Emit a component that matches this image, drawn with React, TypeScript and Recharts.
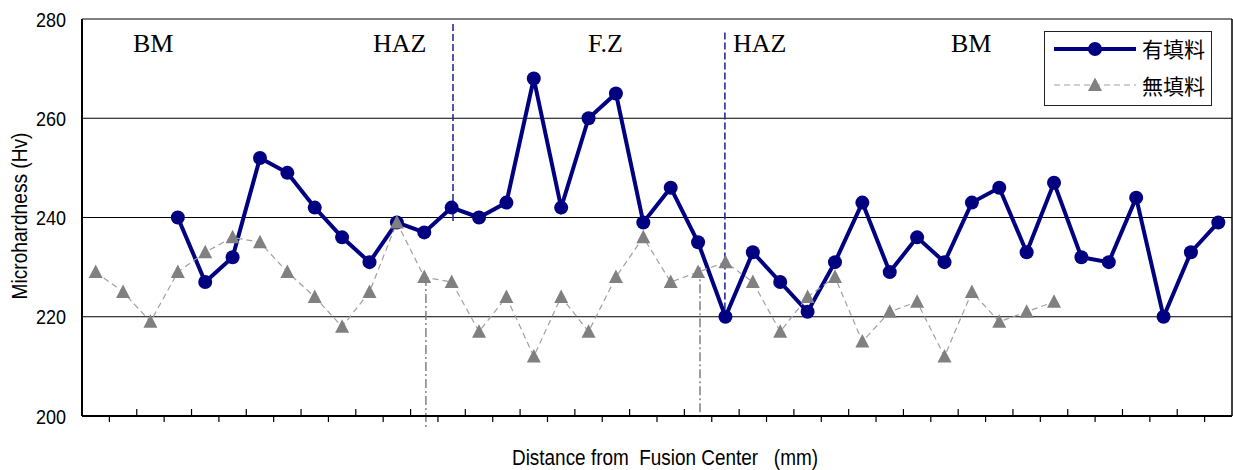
import React from "react";
import { LineChart, Line, XAxis, YAxis, CartesianGrid, ReferenceLine } from "recharts";

// 有填料 / 無填料 microhardness (Hv), one value per measuring position
const filled: (number | null)[] = [
  null, null, null, 240, 227, 232, 252, 249, 242, 236, 231, 239,
  237, 242, 240, 243, 268, 242, 260, 265, 239, 246, 235, 220, 233, 227, 221,
  231, 243, 229, 236, 231, 243, 246, 233, 247, 232, 231, 244, 220, 233, 239,
];
const unfilled: (number | null)[] = [
  229, 225, 219, 229, 233, 236, 235, 229, 224, 218, 225, 239,
  228, 227, 217, 224, 212, 224, 217, 228, 236, 227, 229, 231, 227, 217, 224,
  228, 215, 221, 223, 212, 225, 219, 221, 223, null, null, null, null, null, null,
];
const seriesNames = ["有填料", "無填料"];
const yTicks = [200, 220, 240, 260, 280];
const xBoundaries = Array.from({ length: filled.length + 1 }, (_, i) => i);

// zone dividers (blue dashed) and fusion-line drops (grey dash-dot), in data units
const zoneLines = [
  { x: 13.55, from: 279, to: 239 },
  { x: 23.48, from: 277.3, to: 221 },
];
const dropLines = [
  { x: 12.56, from: 228, to: 197.6 },
  { x: 22.57, from: 230, to: 199.6 },
];
const zoneLabels = [
  { text: "BM", x: 133 },
  { text: "HAZ", x: 373 },
  { text: "F.Z", x: 588 },
  { text: "HAZ", x: 733 },
  { text: "BM", x: 951 },
];

const rows = filled.map((v, i) => ({ pos: i + 0.5, filled: v, unfilled: unfilled[i] }));

const SANS = "'Liberation Sans Narrow', 'Liberation Sans', Arial, sans-serif";
const NAVY = "#000080";
const GREY = "#808080";

function XTick({ x, y, payload }: any) {
  const v = payload.value;
  if (v === 0 || v === xBoundaries.length - 1) return null;
  const inside = v % 2 === 0;
  return (
    <line x1={x} x2={x} y1={inside ? y - 7 : y} y2={inside ? y : y + 6} stroke="#000" strokeWidth={1.2} />
  );
}

function YTick({ x, y, payload }: any) {
  return (
    <text x={x - 16} y={y + 7.5} textAnchor="end" fontSize={21} fontFamily={SANS} fill="#000"
      textLength={30} lengthAdjust="spacingAndGlyphs">
      {payload.value}
    </text>
  );
}

function Triangle({ cx, cy }: any) {
  if (cx == null || cy == null) return null;
  return <polygon points={`${cx},${cy - 7.5} ${cx - 7},${cy + 6} ${cx + 7},${cy + 6}`} fill={GREY} />;
}

function LegendBox() {
  return (
    <div style={{ position: "absolute", left: 1044, top: 31, width: 166, height: 73, border: "1px solid #222", background: "#fff" }}>
      <svg width={166} height={73} style={{ display: "block" }}>
        <line x1={9} x2={91} y1={17} y2={17} stroke={NAVY} strokeWidth={4} />
        <circle cx={50} cy={17} r={7} fill={NAVY} />
        <text x={97} y={25} fontSize={21} fontFamily="'Noto Sans CJK JP', sans-serif" fill="#000">{seriesNames[0]}</text>
        <line x1={9} x2={91} y1={53} y2={53} stroke="#a0a0a0" strokeWidth={1} strokeDasharray="6 4" />
        <polygon points="50,45.5 43,59 57,59" fill={GREY} />
        <text x={97} y={62} fontSize={21} fontFamily="'Noto Sans CJK JP', sans-serif" fill="#000">{seriesNames[1]}</text>
      </svg>
    </div>
  );
}

export default function App() {
  return (
    <div style={{ position: "absolute", left: 0, top: 0, width: 1233, height: 470, background: "#fff" }}>
      <LineChart width={1233} height={470} data={rows} margin={{ top: 19, right: 1, bottom: 0, left: 0 }}>
        <CartesianGrid horizontal vertical={false} stroke="#000" strokeWidth={1} />
        <XAxis
          type="number"
          dataKey="pos"
          domain={[0, xBoundaries.length - 1]}
          ticks={xBoundaries}
          interval={0}
          height={54}
          tickSize={0}
          tickMargin={0}
          tickLine={false}
          axisLine={{ stroke: "#000", strokeWidth: 2 }}
          tick={<XTick />}
          label={{
            content: () => (
              <text x={665} y={465} textAnchor="middle" fontSize={22} fontFamily={SANS} fill="#000"
                textLength={306} lengthAdjust="spacingAndGlyphs" style={{ whiteSpace: "pre" }}>
                {"Distance from  Fusion Center   (mm)"}
              </text>
            ),
          }}
        />
        <YAxis
          domain={[200, 280]}
          ticks={yTicks}
          interval={0}
          width={82}
          tickSize={0}
          tickMargin={0}
          tickLine={false}
          axisLine={{ stroke: "#000", strokeWidth: 2 }}
          tick={<YTick />}
          label={{
            content: () => (
              <text x={27} y={216} transform="rotate(-90 27 216)" textAnchor="middle" fontSize={22}
                fontFamily={SANS} fill="#000" textLength={167} lengthAdjust="spacingAndGlyphs">
                Microhardness (Hv)
              </text>
            ),
          }}
        />
        <ReferenceLine x={xBoundaries.length - 1} stroke="#000" strokeWidth={1.5} />
        {zoneLines.map((l, i) => (
          <ReferenceLine key={"z" + i} segment={[{ x: l.x, y: l.from }, { x: l.x, y: l.to }]}
            stroke="#2a2aa0" strokeWidth={1.6} strokeDasharray="7 3" ifOverflow="visible" />
        ))}
        {dropLines.map((l, i) => (
          <ReferenceLine key={"d" + i} segment={[{ x: l.x, y: l.from }, { x: l.x, y: l.to }]}
            stroke={GREY} strokeWidth={1.5} strokeDasharray="9 3 2 3" ifOverflow="visible" />
        ))}
        <Line
          dataKey="filled"
          name={seriesNames[0]}
          stroke={NAVY}
          strokeWidth={4}
          dot={{ r: 7, fill: NAVY, stroke: NAVY, strokeWidth: 0 }}
          isAnimationActive={false}
        />
        <Line
          dataKey="unfilled"
          name={seriesNames[1]}
          stroke="#a0a0a0"
          strokeWidth={1.2}
          strokeDasharray="6 4"
          dot={<Triangle />}
          isAnimationActive={false}
        />
      </LineChart>
      <LegendBox />
      <svg width={1233} height={470} style={{ position: "absolute", left: 0, top: 0, pointerEvents: "none" }}>
        {zoneLabels.map((z, i) => (
          <text key={i} x={z.x} y={52} fontSize={26} fontFamily="'Liberation Serif', 'Times New Roman', serif" fill="#000">
            {z.text}
          </text>
        ))}
      </svg>
    </div>
  );
}
